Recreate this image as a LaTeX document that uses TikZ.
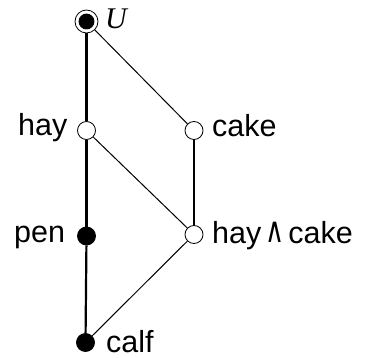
\documentclass[tikz,border=0pt]{standalone}
\usepackage{fontspec}
\setmainfont{Liberation Sans}
\newfontfamily\serifit{Liberation Serif}
\newfontfamily\dejavu{DejaVu Sans}
\begin{document}
\begin{tikzpicture}[x=1pt,y=-1pt,
  open/.style={circle,draw,fill=white,inner sep=0pt,minimum size=18pt,line width=0.8pt},
  full/.style={circle,draw,fill=black,inner sep=0pt,minimum size=18pt,line width=0.8pt},
  thickline/.style={line width=2.2pt},
  thinline/.style={line width=1pt},
  lab/.style={font=\fontsize{30.5}{34}\selectfont,inner sep=0pt}]
\useasboundingbox (0,0) rectangle (369,358);
\node[full,minimum size=15pt] (U) at (86.5,21.5) {};
\node[circle,draw,inner sep=0pt,minimum size=23pt,line width=0.8pt] (Uo) at (86.5,21.5) {};
\node[open] (hay) at (86.5,130.5) {};
\node[open] (cake) at (194,130.5) {};
\node[full] (pen) at (86.5,236) {};
\node[open] (hc) at (194,234.5) {};
\node[full] (calf) at (85.5,342.5) {};
\draw[thickline] (Uo) -- (hay);
\draw[thinline] (Uo) -- (cake);
\draw[thickline] (hay) -- (pen);
\draw[thickline] (pen) -- (calf);
\draw[thinline] (hay) -- (hc);
\draw[thickline] (cake) -- (hc);
\draw[thinline] (hc) -- (calf);
\node[inner sep=0pt,anchor=base west,font=\serifit\itshape\fontsize{30}{32}\selectfont] (Ul) at (105,29) {U};
\node[lab,anchor=base west] (hayl) at (18,135.5) {hay};
\node[lab,anchor=base west] (cakel) at (212,137) {cake};
\node[lab,anchor=base west] (penl) at (14,242) {pen};
\node[lab,anchor=base west] (hcl) at (212,243) {hay\hspace{4pt}\raisebox{1pt}{\scalebox{1.0}[1.35]{\dejavu\fontsize{26}{28}\selectfont ∧}}\hspace{4pt}cake};
\node[lab,anchor=base west] (calfl) at (106,352) {calf};
\end{tikzpicture}
\end{document}
